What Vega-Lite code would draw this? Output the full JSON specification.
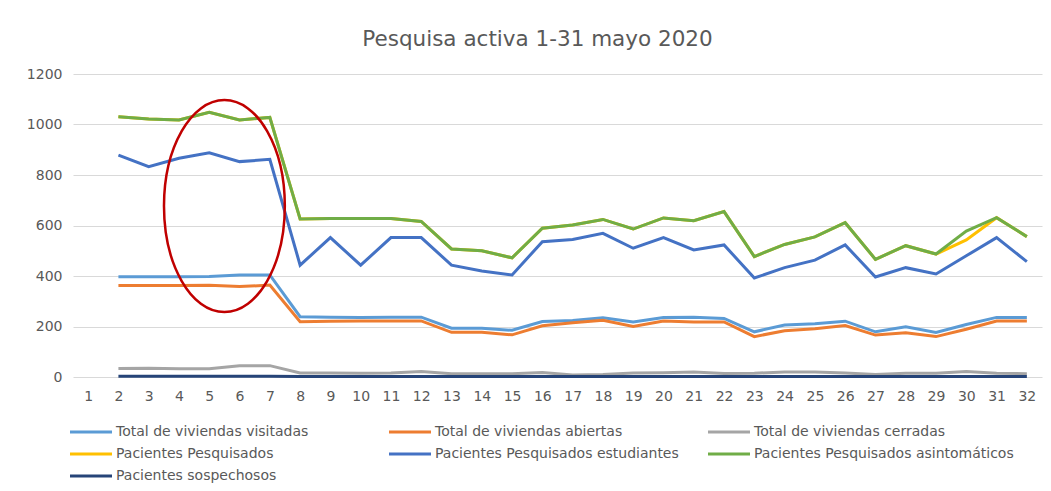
{
  "$schema": "https://vega.github.io/schema/vega-lite/v6.json",
  "width": 969,
  "height": 303,
  "autosize": {"type": "none"},
  "padding": {"left": 73, "top": 74, "right": 9, "bottom": 114},
  "background": "white",
  "config": {"view": {"stroke": null}, "font": "DejaVu Sans"},
  "title": {"text": "Pesquisa activa 1-31 mayo 2020", "fontSize": 21.5, "fontWeight": "normal", "color": "#595959", "offset": 17, "dx": -20, "font": "DejaVu Sans"},
  "datasets": {
    "wide": [
      {"dia": 2, "Total de viviendas visitadas": 397, "Total de viviendas abiertas": 362, "Total de viviendas cerradas": 34, "Pacientes Pesquisados": 1031, "Pacientes Pesquisados estudiantes": 879, "Pacientes Pesquisados asintomáticos": 1031, "Pacientes sospechosos": 3},
      {"dia": 3, "Total de viviendas visitadas": 397, "Total de viviendas abiertas": 362, "Total de viviendas cerradas": 35, "Pacientes Pesquisados": 1022, "Pacientes Pesquisados estudiantes": 833, "Pacientes Pesquisados asintomáticos": 1022, "Pacientes sospechosos": 3},
      {"dia": 4, "Total de viviendas visitadas": 397, "Total de viviendas abiertas": 362, "Total de viviendas cerradas": 33, "Pacientes Pesquisados": 1018, "Pacientes Pesquisados estudiantes": 866, "Pacientes Pesquisados asintomáticos": 1018, "Pacientes sospechosos": 3},
      {"dia": 5, "Total de viviendas visitadas": 398, "Total de viviendas abiertas": 363, "Total de viviendas cerradas": 33, "Pacientes Pesquisados": 1048, "Pacientes Pesquisados estudiantes": 888, "Pacientes Pesquisados asintomáticos": 1048, "Pacientes sospechosos": 3},
      {"dia": 6, "Total de viviendas visitadas": 404, "Total de viviendas abiertas": 358, "Total de viviendas cerradas": 45, "Pacientes Pesquisados": 1018, "Pacientes Pesquisados estudiantes": 853, "Pacientes Pesquisados asintomáticos": 1018, "Pacientes sospechosos": 3},
      {"dia": 7, "Total de viviendas visitadas": 404, "Total de viviendas abiertas": 364, "Total de viviendas cerradas": 45, "Pacientes Pesquisados": 1028, "Pacientes Pesquisados estudiantes": 862, "Pacientes Pesquisados asintomáticos": 1028, "Pacientes sospechosos": 3},
      {"dia": 8, "Total de viviendas visitadas": 239, "Total de viviendas abiertas": 219, "Total de viviendas cerradas": 16, "Pacientes Pesquisados": 626, "Pacientes Pesquisados estudiantes": 443, "Pacientes Pesquisados asintomáticos": 626, "Pacientes sospechosos": 2},
      {"dia": 9, "Total de viviendas visitadas": 237, "Total de viviendas abiertas": 221, "Total de viviendas cerradas": 16, "Pacientes Pesquisados": 628, "Pacientes Pesquisados estudiantes": 552, "Pacientes Pesquisados asintomáticos": 628, "Pacientes sospechosos": 2},
      {"dia": 10, "Total de viviendas visitadas": 236, "Total de viviendas abiertas": 222, "Total de viviendas cerradas": 15, "Pacientes Pesquisados": 628, "Pacientes Pesquisados estudiantes": 443, "Pacientes Pesquisados asintomáticos": 628, "Pacientes sospechosos": 2},
      {"dia": 11, "Total de viviendas visitadas": 237, "Total de viviendas abiertas": 222, "Total de viviendas cerradas": 16, "Pacientes Pesquisados": 628, "Pacientes Pesquisados estudiantes": 552, "Pacientes Pesquisados asintomáticos": 628, "Pacientes sospechosos": 2},
      {"dia": 12, "Total de viviendas visitadas": 237, "Total de viviendas abiertas": 222, "Total de viviendas cerradas": 22, "Pacientes Pesquisados": 616, "Pacientes Pesquisados estudiantes": 552, "Pacientes Pesquisados asintomáticos": 616, "Pacientes sospechosos": 2},
      {"dia": 13, "Total de viviendas visitadas": 193, "Total de viviendas abiertas": 177, "Total de viviendas cerradas": 13, "Pacientes Pesquisados": 507, "Pacientes Pesquisados estudiantes": 443, "Pacientes Pesquisados asintomáticos": 507, "Pacientes sospechosos": 2},
      {"dia": 14, "Total de viviendas visitadas": 193, "Total de viviendas abiertas": 177, "Total de viviendas cerradas": 13, "Pacientes Pesquisados": 500, "Pacientes Pesquisados estudiantes": 420, "Pacientes Pesquisados asintomáticos": 500, "Pacientes sospechosos": 2},
      {"dia": 15, "Total de viviendas visitadas": 185, "Total de viviendas abiertas": 167, "Total de viviendas cerradas": 13, "Pacientes Pesquisados": 472, "Pacientes Pesquisados estudiantes": 404, "Pacientes Pesquisados asintomáticos": 472, "Pacientes sospechosos": 2},
      {"dia": 16, "Total de viviendas visitadas": 220, "Total de viviendas abiertas": 203, "Total de viviendas cerradas": 18, "Pacientes Pesquisados": 589, "Pacientes Pesquisados estudiantes": 536, "Pacientes Pesquisados asintomáticos": 589, "Pacientes sospechosos": 2},
      {"dia": 17, "Total de viviendas visitadas": 224, "Total de viviendas abiertas": 215, "Total de viviendas cerradas": 8, "Pacientes Pesquisados": 602, "Pacientes Pesquisados estudiantes": 545, "Pacientes Pesquisados asintomáticos": 602, "Pacientes sospechosos": 2},
      {"dia": 18, "Total de viviendas visitadas": 235, "Total de viviendas abiertas": 225, "Total de viviendas cerradas": 10, "Pacientes Pesquisados": 624, "Pacientes Pesquisados estudiantes": 569, "Pacientes Pesquisados asintomáticos": 624, "Pacientes sospechosos": 2},
      {"dia": 19, "Total de viviendas visitadas": 218, "Total de viviendas abiertas": 200, "Total de viviendas cerradas": 16, "Pacientes Pesquisados": 586, "Pacientes Pesquisados estudiantes": 510, "Pacientes Pesquisados asintomáticos": 586, "Pacientes sospechosos": 2},
      {"dia": 20, "Total de viviendas visitadas": 236, "Total de viviendas abiertas": 222, "Total de viviendas cerradas": 17, "Pacientes Pesquisados": 630, "Pacientes Pesquisados estudiantes": 552, "Pacientes Pesquisados asintomáticos": 630, "Pacientes sospechosos": 2},
      {"dia": 21, "Total de viviendas visitadas": 237, "Total de viviendas abiertas": 218, "Total de viviendas cerradas": 20, "Pacientes Pesquisados": 619, "Pacientes Pesquisados estudiantes": 503, "Pacientes Pesquisados asintomáticos": 619, "Pacientes sospechosos": 2},
      {"dia": 22, "Total de viviendas visitadas": 232, "Total de viviendas abiertas": 218, "Total de viviendas cerradas": 14, "Pacientes Pesquisados": 655, "Pacientes Pesquisados estudiantes": 523, "Pacientes Pesquisados asintomáticos": 655, "Pacientes sospechosos": 2},
      {"dia": 23, "Total de viviendas visitadas": 179, "Total de viviendas abiertas": 160, "Total de viviendas cerradas": 15, "Pacientes Pesquisados": 477, "Pacientes Pesquisados estudiantes": 392, "Pacientes Pesquisados asintomáticos": 477, "Pacientes sospechosos": 2},
      {"dia": 24, "Total de viviendas visitadas": 206, "Total de viviendas abiertas": 183, "Total de viviendas cerradas": 20, "Pacientes Pesquisados": 525, "Pacientes Pesquisados estudiantes": 433, "Pacientes Pesquisados asintomáticos": 525, "Pacientes sospechosos": 2},
      {"dia": 25, "Total de viviendas visitadas": 211, "Total de viviendas abiertas": 191, "Total de viviendas cerradas": 20, "Pacientes Pesquisados": 555, "Pacientes Pesquisados estudiantes": 463, "Pacientes Pesquisados asintomáticos": 555, "Pacientes sospechosos": 2},
      {"dia": 26, "Total de viviendas visitadas": 221, "Total de viviendas abiertas": 204, "Total de viviendas cerradas": 16, "Pacientes Pesquisados": 611, "Pacientes Pesquisados estudiantes": 523, "Pacientes Pesquisados asintomáticos": 611, "Pacientes sospechosos": 2},
      {"dia": 27, "Total de viviendas visitadas": 179, "Total de viviendas abiertas": 166, "Total de viviendas cerradas": 10, "Pacientes Pesquisados": 466, "Pacientes Pesquisados estudiantes": 396, "Pacientes Pesquisados asintomáticos": 466, "Pacientes sospechosos": 2},
      {"dia": 28, "Total de viviendas visitadas": 199, "Total de viviendas abiertas": 175, "Total de viviendas cerradas": 15, "Pacientes Pesquisados": 520, "Pacientes Pesquisados estudiantes": 433, "Pacientes Pesquisados asintomáticos": 520, "Pacientes sospechosos": 2},
      {"dia": 29, "Total de viviendas visitadas": 176, "Total de viviendas abiertas": 160, "Total de viviendas cerradas": 15, "Pacientes Pesquisados": 487, "Pacientes Pesquisados estudiantes": 408, "Pacientes Pesquisados asintomáticos": 487, "Pacientes sospechosos": 2},
      {"dia": 30, "Total de viviendas visitadas": 208, "Total de viviendas abiertas": 189, "Total de viviendas cerradas": 22, "Pacientes Pesquisados": 543, "Pacientes Pesquisados estudiantes": 480, "Pacientes Pesquisados asintomáticos": 578, "Pacientes sospechosos": 2},
      {"dia": 31, "Total de viviendas visitadas": 236, "Total de viviendas abiertas": 222, "Total de viviendas cerradas": 15, "Pacientes Pesquisados": 631, "Pacientes Pesquisados estudiantes": 552, "Pacientes Pesquisados asintomáticos": 631, "Pacientes sospechosos": 2},
      {"dia": 32, "Total de viviendas visitadas": 236, "Total de viviendas abiertas": 222, "Total de viviendas cerradas": 13, "Pacientes Pesquisados": 556, "Pacientes Pesquisados estudiantes": 457, "Pacientes Pesquisados asintomáticos": 556, "Pacientes sospechosos": 2}
    ],
    "annot": [
      {"dia": 5.5, "valor": 677}
    ]
  },
  "encoding": {
    "x": {
      "field": "dia", "type": "quantitative",
      "scale": {"domain": [0.5, 32.5], "nice": false, "zero": false},
      "axis": {"title": null, "values": [1,2,3,4,5,6,7,8,9,10,11,12,13,14,15,16,17,18,19,20,21,22,23,24,25,26,27,28,29,30,31,32], "format": "d", "grid": false, "domain": false, "ticks": false, "labelPadding": 12, "labelFontSize": 14, "labelColor": "#595959", "labelFont": "DejaVu Sans", "labelFlush": false, "labelOverlap": false, "labelBound": false}
    },
    "y": {
      "field": "valor", "type": "quantitative",
      "scale": {"domain": [0, 1200], "nice": false},
      "axis": {"title": null, "values": [0, 200, 400, 600, 800, 1000, 1200], "format": "d", "domain": false, "ticks": false, "gridColor": "#D9D9D9", "gridWidth": 1, "labelPadding": 11, "labelFontSize": 14, "labelColor": "#595959", "labelFont": "DejaVu Sans"}
    }
  },
  "layer": [
    {
      "data": {"name": "wide"},
      "transform": [
        {"fold": ["Total de viviendas visitadas", "Total de viviendas abiertas", "Total de viviendas cerradas", "Pacientes Pesquisados", "Pacientes Pesquisados estudiantes", "Pacientes Pesquisados asintomáticos", "Pacientes sospechosos"], "as": ["serie", "valor"]}
      ],
      "mark": {"type": "line", "strokeWidth": 3},
      "encoding": {
        "color": {
          "field": "serie", "type": "nominal",
          "scale": {
            "domain": ["Total de viviendas visitadas", "Total de viviendas abiertas", "Total de viviendas cerradas", "Pacientes Pesquisados", "Pacientes Pesquisados estudiantes", "Pacientes Pesquisados asintomáticos", "Pacientes sospechosos"],
            "range": ["#5B9BD5", "#ED7D31", "#A5A5A5", "#FFC000", "#4472C4", "#70AD47", "#264478"]
          },
          "legend": {
            "title": null, "orient": "none", "legendX": 6, "legendY": 346, "direction": "horizontal", "columns": 3,
            "gridAlign": "all", "columnPadding": 7, "rowPadding": 3,
            "symbolType": "M-2,0L2,0", "symbolSize": 441, "symbolStrokeWidth": 3,
            "labelFontSize": 14, "labelColor": "#595959", "labelFont": "DejaVu Sans", "labelOffset": 13, "labelLimit": 400
          }
        }
      }
    },
    {
      "data": {"name": "annot"},
      "mark": {"type": "point", "shape": "M0,-1 C0.3148,-1 0.57,-0.5523 0.57,0 C0.57,0.5523 0.3148,1 0,1 C-0.3148,1 -0.57,0.5523 -0.57,0 C-0.57,-0.5523 -0.3148,-1 0,-1 Z", "filled": false, "stroke": "#C00000", "strokeWidth": 2.5, "size": 44944, "opacity": 1}
    }
  ]
}
